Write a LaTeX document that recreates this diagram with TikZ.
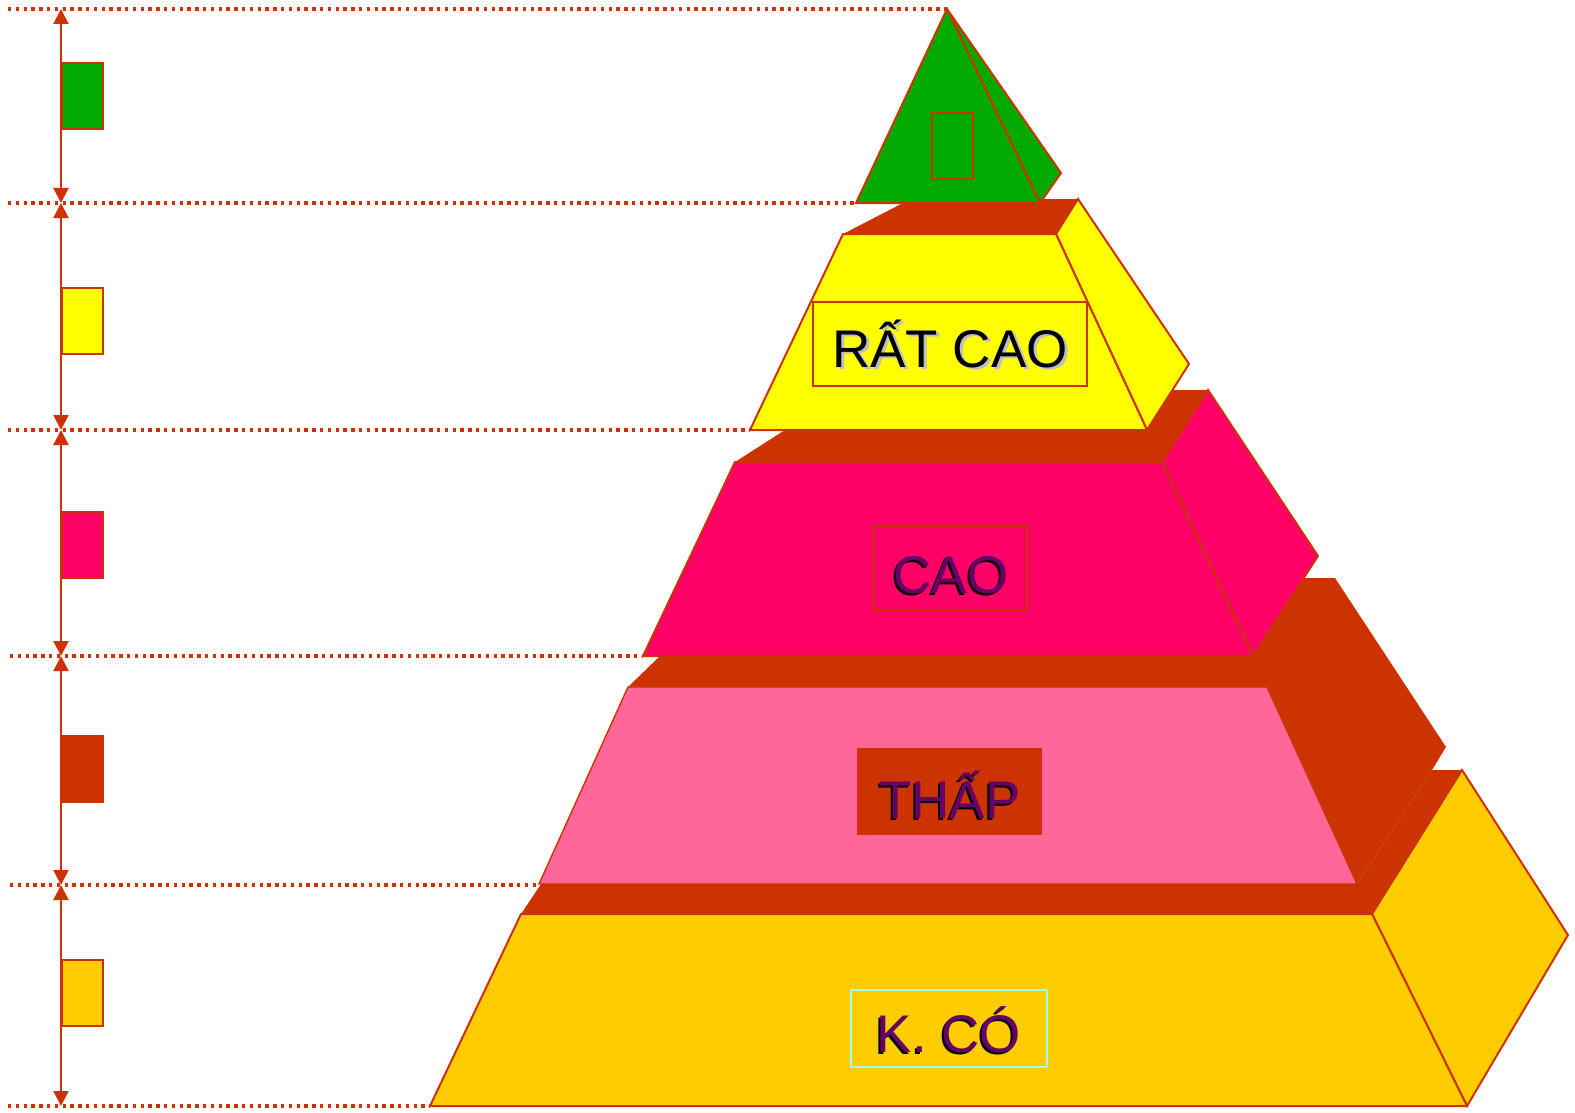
\documentclass[tikz,border=0pt]{standalone}
\usepackage{fontspec}
\setmainfont{Liberation Sans}
\usetikzlibrary{arrows.meta}
\definecolor{brn}{HTML}{CC3300}
\definecolor{grn}{HTML}{00AA00}
\definecolor{yel}{HTML}{FFFF00}
\definecolor{pnk}{HTML}{FF0066}
\definecolor{lpnk}{HTML}{FF6699}
\definecolor{gld}{HTML}{FFCC00}
\definecolor{prp}{HTML}{660066}
\definecolor{cyn}{HTML}{99FFFF}
\tikzset{
  face/.style={draw=brn, line width=2pt, line join=miter},
  back/.style={fill=brn, draw=none},
  dotline/.style={draw=brn, line width=3.4pt, dash pattern=on 3.4pt off 4.4pt},
  arr/.style={draw=brn, line width=2pt, {Triangle[width=15pt,length=15pt]}-{Triangle[width=15pt,length=15pt]}},
  swatch/.style={draw=brn, line width=1.6pt, minimum width=41pt, minimum height=66pt, inner sep=0pt, anchor=north west},
  lbox/.style={line width=1.6pt, inner sep=0pt},
  big/.style={font=\fontsize{53}{60}\selectfont, inner sep=0pt, anchor=base},
}
\begin{document}
\begin{tikzpicture}[x=1pt,y=-1pt]
\useasboundingbox (0,0) rectangle (1575,1113);
% guide coordinates
\foreach \n/\y/\xa/\xb in {0/9/8/947,1/203/8/856,2/430/8/750,3/656/10/643,4/885/10/539,5/1106/8/430}{
  \coordinate (L\n) at (\xa,\y);
  \coordinate (R\n) at (\xb,\y);
  \coordinate (A\n) at (61,\y);
}
% dotted guide lines
\foreach \n in {0,...,5}{ \draw[dotline] (L\n) -- (R\n); }
% arrows
\foreach \a/\b in {0/1,1/2,2/3,3/4,4/5}{ \draw[arr] (A\a) -- (A\b); }
% swatches
\node[swatch, fill=grn] (s1) at (61,62) {};
\node[swatch, fill=yel] (s2) at (61,287) {};
\node[swatch, fill=pnk] (s3) at (61,511) {};
\node[swatch, fill=brn] (s4) at (61,735) {};
\node[swatch, fill=gld] (s5) at (61,959) {};

% ---- bottom level (gold)
\fill[back] (545,878) -- (521,914) -- (1372,914) -- (1462,770) -- (1432,770) -- (1357,884) -- cycle;
\filldraw[face, fill=gld] (1372,914) -- (1462,770) -- (1568,935) -- (1467,1106) -- cycle;
\filldraw[face, fill=gld] (521,914) -- (1372,914) -- (1467,1106) -- (430,1106) -- cycle;
\node[lbox, draw=cyn, minimum width=196pt, minimum height=77pt] (b5) at (949,1028.5) {};
\node[big, text=black] at (947,1054) {K. CÓ};
\node[big, text=prp] (t5) at (949,1052) {K. CÓ};

% ---- THAP level
\fill[back] (660,656) -- (628,687) -- (1267,687) -- (1357,884) -- (1432,770) -- (1446,747) -- (1335,578) -- (1304,578) -- (1253,656) -- cycle;
\filldraw[face, line width=1.4pt, fill=lpnk] (628,687) -- (1267,687) -- (1357,884) -- (539,884) -- cycle;
\node[lbox, fill=brn, draw=brn!80!pnk, minimum width=183pt, minimum height=85pt] (b4) at (949.5,791.5) {};
\node[big, text=black] at (948,820) {THẤP};
\node[big, text=prp] (t4) at (950,818) {THẤP};

% ---- CAO level
\fill[back] (785,430) -- (735,462) -- (1162,462) -- (1208,390) -- (1172,390) -- (1147,430) -- cycle;
\filldraw[face, fill=pnk] (1162,462) -- (1208,390) -- (1318,556) -- (1253,656) -- cycle;
\filldraw[face, fill=pnk] (735,462) -- (1162,462) -- (1253,656) -- (643,656) -- cycle;
\node[lbox, draw=brn, minimum width=154pt, minimum height=84pt] (b3) at (950,568) {};
\node[big, text=black] at (949,595) {CAO};
\node[big, text=prp] (t3) at (951,593) {CAO};

% ---- RAT CAO level
\fill[back] (903,203) -- (843,234) -- (1056,234) -- (1078,199) -- (1043,199) -- (1040,203) -- cycle;
\filldraw[face, fill=yel] (1056,234) -- (1078,199) -- (1189,364) -- (1147,430) -- cycle;
\filldraw[face, fill=yel] (843,234) -- (1056,234) -- (1147,430) -- (750,430) -- cycle;
\node[lbox, draw=brn, minimum width=274pt, minimum height=84pt] (b2) at (950,344) {};
\node[big, text=black!25] at (953,369) {RẤT CAO};
\node[big, text=black] (t2) at (950,367) {RẤT CAO};

% ---- top (green)
\filldraw[face, fill=grn] (947,9) -- (1061,173) -- (1040,203) -- cycle;
\filldraw[face, fill=grn] (947,9) -- (1040,203) -- (856,203) -- cycle;
\node[lbox, draw=brn, minimum width=41pt, minimum height=66pt] (b1) at (952.5,146) {};
\end{tikzpicture}
\end{document}
